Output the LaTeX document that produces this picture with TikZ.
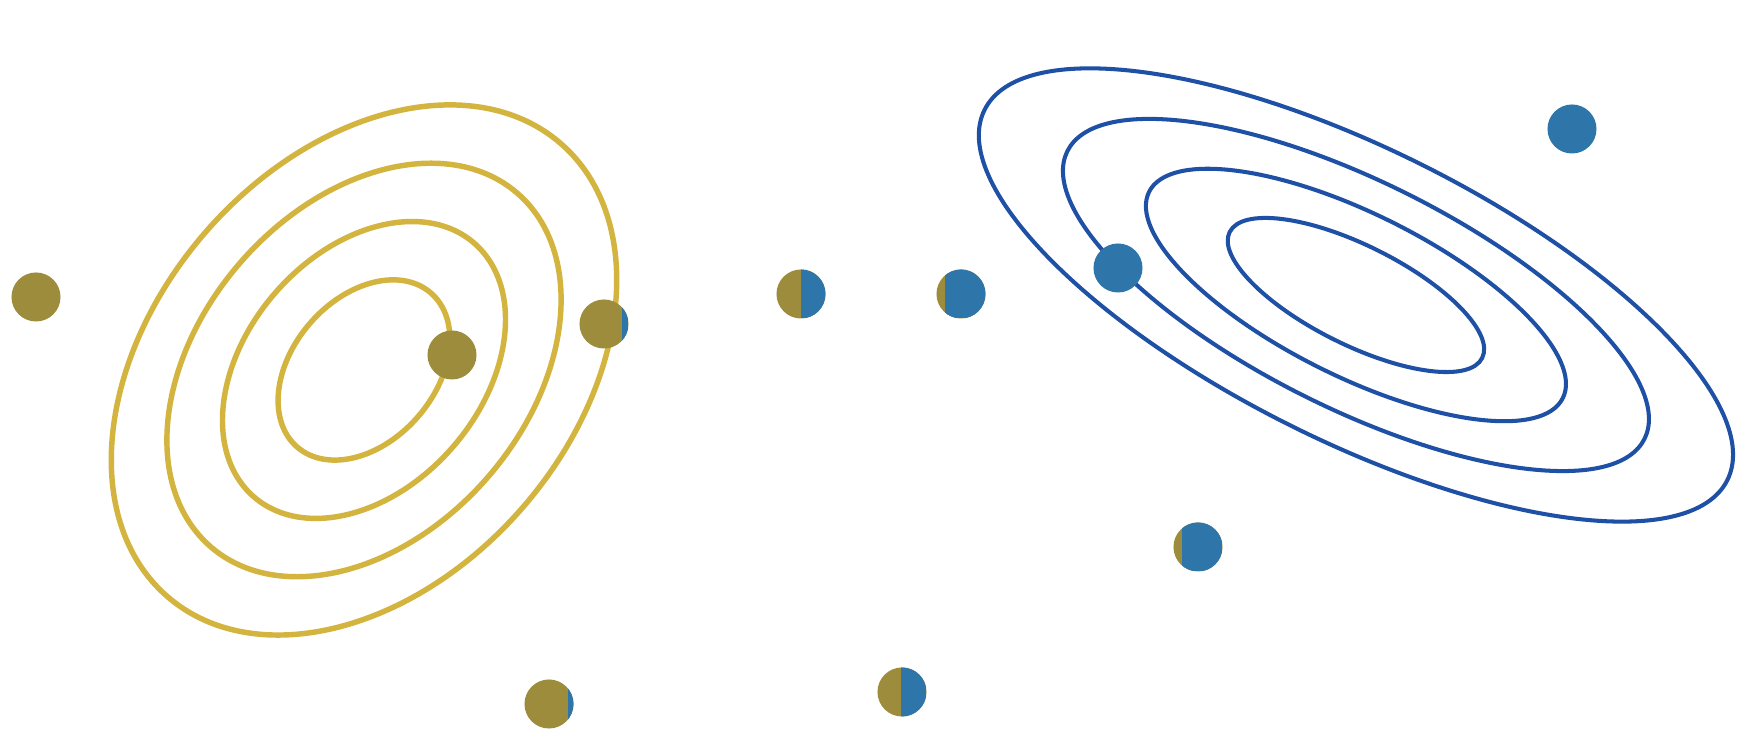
\documentclass[tikz,border=0pt]{standalone}
\usetikzlibrary{calc}
\definecolor{goldline}{HTML}{D3B43F}
\definecolor{olivedot}{HTML}{9C8C3C}
\definecolor{bluedot}{HTML}{2E75AA}
\definecolor{blueline}{HTML}{1E50A5}
\tikzset{
  goldring/.style={draw=goldline, line width=1.55pt},
  bluering/.style={draw=blueline, line width=1.15pt},
  dotbase/.style={circle, inner sep=0pt, minimum size=0.49cm, draw=none},
  odot/.style={dotbase, fill=olivedot},
  bdot/.style={dotbase, fill=bluedot},
  sdot/.style={dotbase, fill=olivedot,
    path picture={\fill[bluedot] ([xshift=#1]path picture bounding box.south) rectangle (path picture bounding box.north east);}}
}
\begin{document}
\begin{tikzpicture}[x=0.01cm,y=0.01cm]
\useasboundingbox (0,0) rectangle (1747,743);
\fill[white] (0,0) rectangle (1747,743);
% gold rings
\coordinate (gc) at (364,373);
\foreach \s in {0.34,0.56,0.78,1.0}{
  \draw[goldring, rotate around={49:(gc)}] (gc) ellipse [x radius={300*\s}, y radius={210*\s}];
}
% blue rings
\coordinate (bc) at (1356,448);
\foreach \s in {0.34,0.557,0.777,1.0}{
  \draw[bluering, rotate around={-26.5:(bc)}] (bc) ellipse [x radius={415*\s}, y radius={146*\s}];
}
% dots
\node[odot] (d1) at (36,446) {};
\node[sdot=0.18cm] (d2) at (604,419) {};
\node[sdot=0cm] (d3) at (801,449) {};
\node[sdot=-0.16cm] (d4) at (961,449) {};
\node[sdot=0.19cm] (d5) at (549,39) {};
\node[sdot=-0.01cm] (d6) at (902,51) {};
\node[sdot=-0.16cm] (d7) at (1198,196) {};
\node[bdot] (d8) at (1572,614) {};
\node[bdot] (d9) at (1118,475) {};
\node[odot] (d10) at (452,388) {};
\end{tikzpicture}
\end{document}
